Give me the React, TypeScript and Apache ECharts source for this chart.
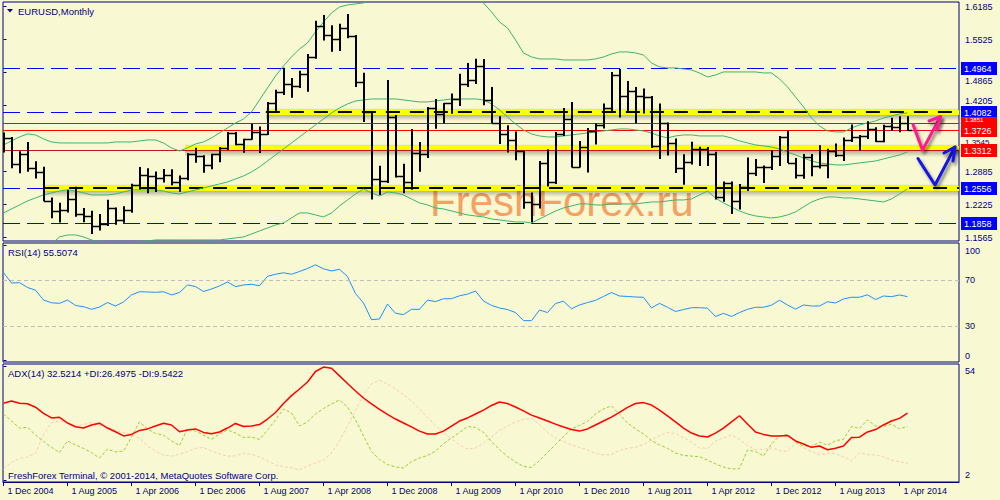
import React, { useEffect, useRef } from "react";
import * as echarts from "echarts";

const FONT = '"Liberation Sans", Arial, sans-serif';
const NAVY = "#000080";
const BG = "#f8f8d2";

// ---- Data (monthly EURUSD, Dec 2004 .. May 2014) ----
const tickLabels = ["1 Dec 2004","1 Aug 2005","1 Apr 2006","1 Dec 2006","1 Aug 2007","1 Apr 2008","1 Dec 2008","1 Aug 2009","1 Apr 2010","1 Dec 2010","1 Aug 2011","1 Apr 2012","1 Dec 2012","1 Aug 2013","1 Apr 2014"];
const tickIndex = [0,8,16,24,32,40,48,56,64,72,80,88,96,104,112];

const open = [1.3318,1.3554,1.3043,1.3247,1.2963,1.2871,1.2299,1.2101,1.2126,1.2339,
1.2029,1.1990,1.1789,1.1842,1.2155,1.1921,1.2117,1.2623,1.2812,1.2794,
1.2762,1.2811,1.2674,1.2759,1.3245,1.3197,1.3020,1.3230,1.3355,1.3650,
1.3445,1.3535,1.3670,1.3635,1.4265,1.4480,1.4630,1.4590,1.4830,1.5180,
1.5790,1.5620,1.5545,1.5755,1.5600,1.4670,1.4080,1.2730,1.2690,1.3970,
1.2800,1.2670,1.3250,1.3240,1.4150,1.4030,1.4255,1.4335,1.4635,1.4720,
1.5000,1.4325,1.3865,1.3630,1.3510,1.3290,1.2270,1.2240,1.3050,1.2685,
1.3630,1.3930,1.2985,1.3370,1.3690,1.3810,1.4160,1.4810,1.4390,1.4500,
1.4390,1.4380,1.3390,1.3850,1.3450,1.2960,1.3080,1.3340,1.3340,1.3230,
1.2370,1.2660,1.2300,1.2580,1.2860,1.2980,1.2980,1.3190,1.3580,1.3060,
1.2820,1.3170,1.2990,1.3010,1.3300,1.3220,1.3520,1.3580,1.3590,1.3740,
1.3490,1.3800,1.3770,1.3865];
const high = [1.3667,1.3579,1.3292,1.3480,1.3093,1.2984,1.2368,1.2262,1.2523,1.2586,
1.2160,1.2105,1.2040,1.2323,1.2170,1.2195,1.2645,1.2979,1.2953,1.2889,
1.2940,1.2935,1.2811,1.3253,1.3365,1.3215,1.3245,1.3380,1.3680,1.3680,
1.3545,1.3850,1.3790,1.4280,1.4525,1.4965,1.4760,1.4905,1.5240,1.5905,
1.6020,1.5815,1.5845,1.6040,1.5620,1.4865,1.4100,1.3005,1.4720,1.4020,
1.3045,1.3740,1.3480,1.4180,1.4340,1.4260,1.4450,1.4845,1.5060,1.5145,
1.5140,1.4580,1.3995,1.3815,1.3690,1.3300,1.2470,1.3100,1.3335,1.3680,
1.4160,1.4280,1.3500,1.3760,1.3860,1.4250,1.4880,1.4940,1.4700,1.4580,
1.4550,1.4400,1.4250,1.3870,1.3550,1.3235,1.3485,1.3385,1.3380,1.3285,
1.2690,1.2690,1.2640,1.3170,1.3140,1.3010,1.3310,1.3600,1.3710,1.3160,
1.3240,1.3240,1.3415,1.3345,1.3450,1.3570,1.3830,1.3620,1.3895,1.3775,
1.3825,1.3965,1.3995,1.3995];
const low = [1.3270,1.2956,1.2853,1.2882,1.2749,1.2293,1.1952,1.1868,1.2070,1.1984,
1.1875,1.1640,1.1707,1.1800,1.1825,1.1866,1.2066,1.2531,1.2455,1.2477,
1.2669,1.2613,1.2484,1.2712,1.3065,1.2865,1.2935,1.3075,1.3320,1.3415,
1.3265,1.3525,1.3260,1.3620,1.4070,1.4420,1.4365,1.4560,1.4485,1.5145,
1.5510,1.5285,1.5300,1.5555,1.4580,1.3880,1.2330,1.2420,1.2660,1.2770,
1.2455,1.2525,1.2885,1.3160,1.3745,1.3850,1.4045,1.4200,1.4580,1.4640,
1.4215,1.3860,1.3440,1.3270,1.3115,1.2145,1.1875,1.2150,1.2590,1.2640,
1.3600,1.2970,1.2970,1.2870,1.3430,1.3750,1.4090,1.3970,1.4070,1.3837,
1.4050,1.3360,1.3140,1.3210,1.2860,1.2625,1.3030,1.3000,1.3000,1.2330,
1.2285,1.2040,1.2130,1.2500,1.2800,1.2660,1.2920,1.3000,1.3060,1.2750,
1.2745,1.2795,1.2950,1.2755,1.3180,1.3100,1.3480,1.3300,1.3540,1.3480,
1.3475,1.3705,1.3675,1.3700];
const close = [1.3554,1.3043,1.3247,1.2963,1.2871,1.2299,1.2101,1.2126,1.2339,1.2029,
1.1990,1.1789,1.1842,1.2155,1.1921,1.2117,1.2623,1.2812,1.2794,1.2762,
1.2811,1.2674,1.2759,1.3245,1.3197,1.3020,1.3230,1.3355,1.3650,1.3445,
1.3535,1.3670,1.3635,1.4265,1.4480,1.4630,1.4590,1.4830,1.5180,1.5790,
1.5620,1.5545,1.5755,1.5600,1.4670,1.4080,1.2730,1.2690,1.3970,1.2800,
1.2670,1.3250,1.3240,1.4150,1.4030,1.4255,1.4335,1.4635,1.4720,1.5000,
1.4325,1.3865,1.3630,1.3510,1.3290,1.2270,1.2240,1.3050,1.2685,1.3630,
1.3930,1.2985,1.3370,1.3690,1.3810,1.4160,1.4810,1.4390,1.4500,1.4390,
1.4380,1.3390,1.3850,1.3450,1.2960,1.3080,1.3340,1.3340,1.3230,1.2370,
1.2660,1.2300,1.2580,1.2860,1.2980,1.2980,1.3190,1.3580,1.3060,1.2820,
1.3170,1.2990,1.3010,1.3300,1.3220,1.3520,1.3580,1.3590,1.3740,1.3490,
1.3800,1.3770,1.3865,1.3720];

const bbUpper = [1.342,1.350,1.358,1.364,1.362,1.354,1.348,1.346,1.346,1.346,
1.346,1.346,1.346,1.346,1.348,1.348,1.348,1.350,1.352,1.352,
1.346,1.336,1.330,1.336,1.344,1.348,1.356,1.366,1.376,1.386,
1.394,1.408,1.432,1.456,1.480,1.500,1.518,1.534,1.546,1.568,
1.588,1.606,1.618,1.622,1.624,1.626,1.635,1.645,1.660,1.670,
1.680,1.685,1.685,1.680,1.670,1.665,1.655,1.648,1.640,1.634,
1.626,1.608,1.588,1.576,1.552,1.526,1.518,1.514,1.514,1.514,
1.512,1.512,1.512,1.512,1.514,1.518,1.524,1.528,1.528,1.526,
1.522,1.506,1.498,1.496,1.496,1.494,1.492,1.486,1.478,1.482,
1.488,1.488,1.488,1.488,1.488,1.486,1.486,1.474,1.458,1.438,
1.418,1.396,1.380,1.370,1.368,1.368,1.376,1.382,1.386,1.390,
1.396,1.400,1.404,1.406];
const bbMiddle = [1.206,1.214,1.222,1.230,1.236,1.242,1.246,1.250,1.252,1.250,
1.246,1.242,1.242,1.242,1.244,1.248,1.252,1.252,1.252,1.252,
1.250,1.246,1.244,1.248,1.252,1.256,1.260,1.264,1.268,1.274,
1.280,1.288,1.298,1.310,1.322,1.334,1.346,1.358,1.370,1.382,
1.394,1.406,1.416,1.424,1.430,1.432,1.434,1.434,1.434,1.434,
1.432,1.430,1.428,1.428,1.430,1.432,1.434,1.434,1.434,1.434,
1.432,1.424,1.412,1.398,1.384,1.372,1.364,1.360,1.358,1.358,
1.360,1.362,1.364,1.366,1.368,1.370,1.372,1.374,1.374,1.372,
1.370,1.366,1.360,1.356,1.360,1.362,1.362,1.360,1.360,1.360,
1.360,1.356,1.350,1.346,1.342,1.340,1.338,1.334,1.328,1.322,
1.316,1.310,1.306,1.304,1.302,1.302,1.304,1.306,1.308,1.310,
1.314,1.318,1.322,1.328];
const bbLower = [1.070,1.078,1.086,1.096,1.110,1.130,1.144,1.158,1.162,1.162,
1.158,1.152,1.148,1.146,1.146,1.146,1.146,1.148,1.150,1.152,
1.152,1.152,1.152,1.152,1.152,1.152,1.152,1.152,1.154,1.156,
1.158,1.164,1.170,1.176,1.182,1.186,1.196,1.206,1.206,1.202,
1.198,1.206,1.220,1.232,1.244,1.254,1.246,1.240,1.248,1.246,
1.242,1.234,1.226,1.222,1.216,1.214,1.210,1.206,1.202,1.200,
1.198,1.194,1.192,1.190,1.188,1.188,1.186,1.194,1.202,1.210,
1.216,1.220,1.224,1.224,1.222,1.222,1.224,1.224,1.224,1.224,
1.226,1.228,1.228,1.230,1.232,1.232,1.234,1.242,1.250,1.236,
1.226,1.218,1.210,1.204,1.200,1.198,1.196,1.198,1.202,1.208,
1.218,1.228,1.234,1.238,1.238,1.236,1.236,1.234,1.232,1.230,
1.228,1.234,1.244,1.254];

const rsi14 = [76.5,67.4,67.7,63.5,61.1,52.6,50.2,49.7,52.6,47.8,
46.8,44.5,46.5,50.4,47.4,50.9,57.0,59.8,59.6,59.3,
59.8,57.0,59.1,65.7,64.3,60.0,62.2,64.8,68.3,64.2,
65.7,66.3,65.0,73.2,75.0,76.3,75.0,77.4,80.0,83.2,
79.7,77.9,79.3,73.0,58.2,50.0,35.5,36.1,49.1,41.1,
39.9,44.5,44.5,52.5,51.2,53.7,53.7,56.3,57.7,60.4,
51.7,47.9,45.7,44.3,41.7,34.7,34.6,43.9,41.7,49.6,
51.5,45.0,48.3,50.4,52.3,55.7,59.1,56.1,55.7,55.2,
55.0,45.7,49.7,46.3,42.6,44.3,45.9,45.9,45.5,38.3,
41.0,38.3,41.7,44.5,46.3,46.3,48.1,52.4,48.3,44.6,
48.3,47.4,47.4,51.1,50.0,53.5,55.0,55.0,57.1,53.0,
56.1,55.5,57.0,55.5074];

const adx14 = [37.0,38.0,37.0,36.8,35.2,32.4,30.3,30.6,28.0,26.3,
25.7,27.1,27.9,25.7,24.0,22.1,22.8,24.6,25.3,26.6,
27.9,27.1,24.0,24.8,25.3,23.7,23.1,23.9,25.7,27.8,
26.4,26.6,27.3,29.8,32.8,36.9,40.5,43.5,46.7,51.5,
53.5,53.0,49.5,46.0,42.6,39.4,36.7,34.2,31.9,29.8,
28.0,26.2,24.3,23.0,23.0,24.3,26.6,28.9,30.3,32.1,
33.9,36.0,37.6,36.9,35.3,33.5,31.6,30.3,28.9,27.5,
26.2,25.0,24.3,25.3,27.1,28.9,30.7,32.8,35.1,36.9,
37.3,36.2,33.9,31.2,28.5,25.7,23.4,22.1,21.6,23.4,
25.7,28.5,31.3,27.5,23.9,22.8,22.1,22.1,22.3,19.8,
18.4,16.9,17.5,15.8,16.5,17.5,21.4,21.5,23.9,25.0,
27.1,28.9,30.1,32.5214];
const plusDi = [32.1,28.9,25.7,26.0,22.5,19.6,17.0,14.5,19.8,18.0,
16.4,14.5,12.0,16.1,14.8,15.2,21.6,28.5,25.3,23.2,
22.5,19.8,17.7,25.5,24.3,22.5,20.5,23.0,24.8,23.4,
21.4,21.6,20.5,24.8,29.4,34.4,32.6,26.6,28.5,32.1,
34.6,36.7,38.5,35.3,29.4,22.1,15.0,11.3,9.1,7.9,
7.5,10.4,12.0,13.2,15.2,18.6,21.2,23.7,26.4,26.0,
23.7,19.6,15.9,12.7,10.2,8.2,7.7,10.9,14.5,18.2,
21.8,25.3,26.9,28.7,32.1,34.4,35.8,31.9,28.0,25.3,
23.0,20.0,18.0,16.4,14.3,13.2,12.9,12.6,11.1,9.3,
7.9,7.0,7.2,15.7,15.0,12.9,18.4,22.1,22.8,19.3,
17.5,17.3,19.3,17.9,19.9,20.6,26.4,25.5,29.4,26.6,
26.4,27.5,25.3,26.4975];
const minusDi = [7.0,10.0,11.8,12.5,14.3,22.5,28.2,29.0,27.8,26.5,
27.3,28.3,27.1,25.9,24.8,23.5,22.8,21.0,17.5,15.2,
13.4,12.9,13.7,15.0,16.4,16.9,15.2,13.9,12.9,13.0,
14.2,13.7,12.5,10.7,8.8,8.1,7.5,6.6,8.4,9.7,
11.1,14.3,19.8,26.6,33.9,40.8,45.8,47.4,45.8,43.5,
41.0,38.0,34.4,30.5,26.9,23.7,20.7,18.0,16.1,16.6,
18.9,21.6,24.6,26.6,28.5,29.6,30.1,27.3,23.9,21.2,
19.6,18.0,16.8,15.7,14.1,13.4,13.6,15.5,16.4,17.0,
18.2,20.2,22.3,23.7,23.2,21.4,19.3,16.6,16.4,19.8,
21.2,22.5,20.5,17.7,15.9,16.0,16.6,15.5,15.0,18.9,
16.6,15.0,13.4,14.2,14.1,12.5,10.7,14.3,13.6,13.4,
12.6,11.1,10.4,9.5422];

const priceTicks = [1.1565,1.2225,1.2885,1.3545,1.4205,1.4865,1.5525,1.6185];
const rsiTicks = [0,30,70,100];
const adxTicks = [2,54];
const rsiLevels = [30,70];

const X_MIN = -0.0625;
const X_MAX = 119.4375;

// horizontal levels: [price, fromBar, toBar]
const blueDashLevels = [[1.4964,X_MIN,X_MAX],[1.1858,X_MIN,X_MAX],[1.4082,X_MIN,32.8],[1.2556,X_MIN,5.2]];
const dashedBandLevels = [[1.4082,32.8,X_MAX],[1.2556,5.2,X_MAX]];
const plainBandLevels = [[1.3352,22.7,X_MAX]];
const redLevels = [[1.3851,X_MIN,X_MAX],[1.3726,X_MIN,X_MAX]];
const darkRedLevels = [[1.3312,X_MIN,X_MAX]];
const blueTags = [1.4964,1.4082,1.2556,1.1858];
const redTags = [1.3312,1.3851,1.3726];

// hand-drawn arrows (bar index, price)
const pinkArrow = [[113.69,1.3829],[114.88,1.3319],[117.13,1.3989]];
const pinkHead = [[115.69,1.3899],[117.13,1.3989],[116.69,1.3729]];
const blueArrow = [[114.31,1.3149],[116.44,1.2619],[118.94,1.3379]];
const blueHead = [[117.56,1.3259],[118.94,1.3379],[118.69,1.3099]];

function levelSeries(name: string, rows: number[][], z: number, draw: (x0: number, x1: number, y: number) => any[]) {
  return {
    type: "custom", name, xAxisIndex: 0, yAxisIndex: 0, z, clip: false, silent: true,
    encode: { x: [1, 2], y: 0 },
    data: rows,
    renderItem: (params: any, api: any) => {
      const v = api.value(0);
      const a = api.coord([api.value(1), v]);
      const b = api.coord([api.value(2), v]);
      const cs = params.coordSys;
      const x0 = Math.max(a[0], cs.x);
      const x1 = Math.min(b[0], cs.x + cs.width);
      return { type: "group", children: draw(x0, x1, Math.round(a[1])) };
    },
  };
}

// price tags at the right axis; a tag that is mostly covered by a later tag shows a compact text
function tagSeries(name: string, values: number[], bg: string) {
  return {
    type: "custom", name, xAxisIndex: 0, yAxisIndex: 0, z: 30, clip: false, silent: true,
    encode: { x: 1, y: 0 },
    data: values.map((v) => [v, X_MAX]),
    renderItem: (params: any, api: any) => {
      const k = params.dataIndex;
      const v = values[k];
      const p = api.coord([X_MAX, v]);
      const cs = params.coordSys;
      const xr = cs.x + cs.width;
      const y = Math.round(p[1]);
      let covered = false;
      for (let j = k + 1; j < values.length; j++) {
        const q = api.coord([X_MAX, values[j]]);
        if (Math.abs(q[1] - p[1]) < 11) covered = true;
      }
      const txt = covered
        ? { type: "text", x: xr + 6, y: y - 3, style: { text: v.toFixed(4), fill: "#ffffff", fontSize: 6, fontFamily: FONT, verticalAlign: "middle", align: "left" } }
        : { type: "text", x: xr + 5, y: y + 0.5, style: { text: v.toFixed(4), fill: "#ffffff", fontSize: 9, fontFamily: FONT, verticalAlign: "middle", align: "left" } };
      return {
        type: "group",
        children: [
          { type: "rect", shape: { x: xr + 2, y: y - 6, width: 36, height: 13 }, style: { fill: bg } },
          txt,
        ],
      };
    },
  };
}

function buildOption() {
  const idx = close.map((_, i) => i);
  const ohlc = idx.map((i) => [i, open[i], high[i], low[i], close[i]]);
  const pts = (arr: number[]) => arr.map((v, i) => [i, v]);

  const axisLblBase = { color: NAVY, fontSize: 9, fontFamily: FONT };
  const arrowStyle = (c: string) => ({ color: c, width: 3, shadowColor: "rgba(0,0,0,0.45)", shadowBlur: 3, shadowOffsetX: 2, shadowOffsetY: 3, cap: "round", join: "round" });

  const bandDraw = (withDash: boolean) => (x0: number, x1: number, y: number) => {
    const ch: any[] = [
      { type: "rect", shape: { x: x0, y: y - 4, width: x1 - x0, height: 13 }, style: { fill: new echarts.graphic.LinearGradient(0, 0, 0, 1, [
        { offset: 0, color: "rgba(0,0,0,0)" }, { offset: 0.35, color: "rgba(0,0,0,0.3)" }, { offset: 0.6, color: "rgba(0,0,0,0.24)" }, { offset: 1, color: "rgba(0,0,0,0)" },
      ]) } },
      { type: "rect", shape: { x: x0, y: y - 2, width: x1 - x0, height: 5 }, style: { fill: "#ffff00" } },
    ];
    if (withDash) ch.push({ type: "line", shape: { x1: x0, y1: y, x2: x1, y2: y }, style: { stroke: "#000000", lineWidth: 2, lineDash: [14, 10] } });
    return ch;
  };

  return {
    animation: false,
    backgroundColor: BG,
    textStyle: { fontFamily: FONT },
    grid: [
      { left: 3, top: 2, width: 956, height: 239, show: true, borderColor: NAVY, borderWidth: 1, backgroundColor: "transparent" },
      { left: 3, top: 243, width: 956, height: 119, show: true, borderColor: NAVY, borderWidth: 1, backgroundColor: "transparent" },
      { left: 3, top: 364, width: 956, height: 118, show: true, borderColor: NAVY, borderWidth: 1, backgroundColor: "transparent" },
    ],
    xAxis: [
      { type: "value", gridIndex: 0, min: X_MIN, max: X_MAX, show: false },
      { type: "value", gridIndex: 1, min: X_MIN, max: X_MAX, show: false },
      {
        type: "value", gridIndex: 2, min: X_MIN, max: X_MAX, position: "bottom",
        axisLine: { show: true, lineStyle: { color: NAVY, width: 1 } },
        axisTick: { show: true, length: 4, customValues: tickIndex, lineStyle: { color: NAVY } },
        axisLabel: {
          ...axisLblBase, customValues: tickIndex, align: "left", margin: 4,
          formatter: (v: number) => "{d|" + (tickLabels[tickIndex.indexOf(Math.round(v))] || "") + "}",
          rich: { d: { ...axisLblBase, padding: [0, 0, 0, 4] } },
        },
        splitLine: { show: false },
      },
    ],
    yAxis: [
      {
        type: "value", gridIndex: 0, position: "right", min: 1.1499, max: 1.6279,
        axisLine: { show: false },
        axisTick: { show: true, length: 3, customValues: priceTicks, lineStyle: { color: NAVY } },
        axisLabel: {
          ...axisLblBase, customValues: priceTicks, margin: 6,
          formatter: (v: number) => {
            const s = v.toFixed(4);
            if (s === "1.4865") return "{dn|" + s + "}";
            if (s === "1.3545") return "{dn2|" + s + "}";
            if (s === "1.4205") return "{up|" + s + "}";
            return s;
          },
          rich: {
            dn: { ...axisLblBase, padding: [16, 0, 0, 0] },
            dn2: { ...axisLblBase, fontSize: 8, padding: [7, 0, 0, 0] },
            up: { ...axisLblBase, padding: [0, 0, 10, 0] },
          },
        },
        splitLine: { show: false },
      },
      {
        type: "value", gridIndex: 1, position: "right", min: -1.304, max: 102.174,
        axisLine: { show: false },
        axisTick: { show: true, length: 3, customValues: rsiTicks, lineStyle: { color: NAVY } },
        axisLabel: {
          ...axisLblBase, customValues: rsiTicks, margin: 6,
          formatter: (v: number) => (v === 100 ? "{t|100}" : v === 0 ? "{b|0}" : String(v)),
          rich: { t: { ...axisLblBase, padding: [10, 0, 0, 0] }, b: { ...axisLblBase, padding: [0, 0, 10, 0] } },
        },
        splitLine: { show: false },
      },
      {
        type: "value", gridIndex: 2, position: "right", min: 1.08, max: 54.912,
        axisLine: { show: false },
        axisTick: { show: true, length: 3, customValues: adxTicks, lineStyle: { color: NAVY } },
        axisLabel: {
          ...axisLblBase, customValues: adxTicks, margin: 6,
          formatter: (v: number) => (v === 54 ? "{t|54}" : "{b|2}"),
          rich: { t: { ...axisLblBase, padding: [11, 0, 0, 0] }, b: { ...axisLblBase, padding: [0, 0, 9, 0] } },
        },
        splitLine: { show: false },
      },
    ],
    graphic: [
      { type: "text", z: 1, x: 430, y: 222, style: { text: "FreshForex.ru", fill: "#f3a262", fontSize: 42, fontFamily: FONT, verticalAlign: "bottom" } },
      { type: "polygon", z: 20, shape: { points: [[7, 9], [13, 9], [10, 12.5]] }, style: { fill: NAVY } },
      { type: "text", z: 20, x: 18, y: 11, style: { text: "EURUSD,Monthly", fill: NAVY, fontSize: 9.5, fontFamily: FONT, verticalAlign: "middle" } },
      { type: "text", z: 20, x: 8, y: 252.5, style: { text: "RSI(14) 55.5074", fill: NAVY, fontSize: 9.5, fontFamily: FONT, verticalAlign: "middle" } },
      { type: "text", z: 20, x: 8, y: 373.5, style: { text: "ADX(14) 32.5214 +DI:26.4975 -DI:9.5422", fill: NAVY, fontSize: 9.5, fontFamily: FONT, verticalAlign: "middle" } },
      { type: "text", z: 20, x: 8, y: 475, style: { text: "FreshForex Terminal, \u00a9 2001-2014, MetaQuotes Software Corp.", fill: NAVY, fontSize: 9.5, fontFamily: FONT, verticalAlign: "middle" } },
    ],
    series: [
      levelSeries("blue levels", blueDashLevels, 2, (x0, x1, y) => [
        { type: "line", shape: { x1: x0, y1: y + 0.5, x2: x1, y2: y + 0.5 }, style: { stroke: "#0000ff", lineWidth: 1, lineDash: [17, 7] } },
      ]),
      levelSeries("yellow band", plainBandLevels, 2, bandDraw(false)),
      levelSeries("yellow dashed band", dashedBandLevels, 2, bandDraw(true)),
      levelSeries("red levels", redLevels, 2, (x0, x1, y) => [
        { type: "line", shape: { x1: x0, y1: y + 0.5, x2: x1, y2: y + 0.5 }, style: { stroke: "#ff0000", lineWidth: 1 } },
      ]),
      levelSeries("dark red level", darkRedLevels, 2, (x0, x1, y) => [
        { type: "line", shape: { x1: x0, y1: y + 0.5, x2: x1, y2: y + 0.5 }, style: { stroke: "#c81414", lineWidth: 1 } },
      ]),
      { type: "line", name: "BB upper", xAxisIndex: 0, yAxisIndex: 0, data: pts(bbUpper), showSymbol: false, z: 3, lineStyle: { color: "#3cb371", width: 1 } },
      { type: "line", name: "BB middle", xAxisIndex: 0, yAxisIndex: 0, data: pts(bbMiddle), showSymbol: false, z: 3, lineStyle: { color: "#3cb371", width: 1 } },
      { type: "line", name: "BB lower", xAxisIndex: 0, yAxisIndex: 0, data: pts(bbLower), showSymbol: false, z: 3, lineStyle: { color: "#3cb371", width: 1 } },
      {
        type: "custom", name: "EURUSD", xAxisIndex: 0, yAxisIndex: 0, z: 5, clip: true,
        encode: { x: 0, y: [1, 2, 3, 4] },
        data: ohlc,
        renderItem: (_p: any, api: any) => {
          const i = api.value(0);
          const pO = api.coord([i, api.value(1)]);
          const pH = api.coord([i, api.value(2)]);
          const pL = api.coord([i, api.value(3)]);
          const pC = api.coord([i, api.value(4)]);
          const x = Math.round(pH[0]);
          const yo = Math.round(pO[1]) + 0.5;
          const yc = Math.round(pC[1]) + 0.5;
          const tick = { stroke: "#000000", lineWidth: 1.5 };
          return {
            type: "group",
            children: [
              { type: "line", shape: { x1: x, y1: pH[1], x2: x, y2: pL[1] }, style: { stroke: "#000000", lineWidth: 2 } },
              { type: "line", shape: { x1: x - 4, y1: yo, x2: x, y2: yo }, style: tick },
              { type: "line", shape: { x1: x, y1: yc, x2: x + 4, y2: yc }, style: tick },
            ],
          };
        },
      },
      tagSeries("blue tags", blueTags, "#0000ff"),
      tagSeries("red tags", redTags, "#ff0000"),
      { type: "line", name: "pink arrow", xAxisIndex: 0, yAxisIndex: 0, data: pinkArrow, showSymbol: false, z: 10, clip: false, lineStyle: arrowStyle("#ff1a8c") },
      { type: "line", name: "pink head", xAxisIndex: 0, yAxisIndex: 0, data: pinkHead, showSymbol: false, z: 10, clip: false, lineStyle: arrowStyle("#ff1a8c") },
      { type: "line", name: "blue arrow", xAxisIndex: 0, yAxisIndex: 0, data: blueArrow, showSymbol: false, z: 10, clip: false, lineStyle: arrowStyle("#1414e6") },
      { type: "line", name: "blue head", xAxisIndex: 0, yAxisIndex: 0, data: blueHead, showSymbol: false, z: 10, clip: false, lineStyle: arrowStyle("#1414e6") },
      {
        type: "line", name: "RSI", xAxisIndex: 1, yAxisIndex: 1, data: pts(rsi14), showSymbol: false, z: 4,
        lineStyle: { color: "#1e90ff", width: 1 },
        markLine: {
          silent: true, symbol: ["none", "none"], animation: false, label: { show: false },
          data: rsiLevels.map((v) => ({ yAxis: v, lineStyle: { color: "#bdbdbd", type: [4, 3], width: 1 } })),
        },
      },
      { type: "line", name: "-DI", xAxisIndex: 2, yAxisIndex: 2, data: pts(minusDi), showSymbol: false, z: 3, lineStyle: { color: "#f6cfae", width: 1, type: [3, 2] } },
      { type: "line", name: "+DI", xAxisIndex: 2, yAxisIndex: 2, data: pts(plusDi), showSymbol: false, z: 3, lineStyle: { color: "#9acd32", width: 1, type: [3, 2] } },
      { type: "line", name: "ADX", xAxisIndex: 2, yAxisIndex: 2, data: pts(adx14), showSymbol: false, z: 4, lineStyle: { color: "#ff0000", width: 1.5 } },
    ],
  };
}

export default function App() {
  const ref = useRef<HTMLDivElement>(null);
  useEffect(() => {
    if (!ref.current) return;
    const chart = echarts.init(ref.current, null, { renderer: "svg" });
    chart.setOption(buildOption() as any);
    return () => chart.dispose();
  }, []);
  return (
    <div
      ref={ref}
      style={{ position: "fixed", left: 0, top: 0, width: 1000, height: 500, background: BG }}
    />
  );
}
